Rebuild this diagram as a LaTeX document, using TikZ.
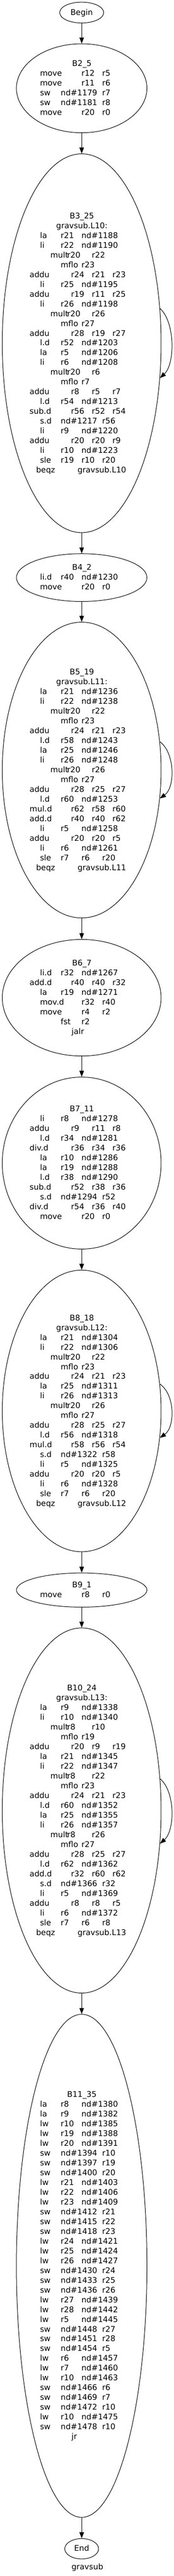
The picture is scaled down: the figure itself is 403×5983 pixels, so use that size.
\documentclass[tikz,border=0pt]{standalone}
\usepackage{fontspec}
\setmainfont{DejaVu Sans}
\usetikzlibrary{arrows.meta,shapes.geometric}
\newcommand\qtk[2]{\rlap{\hskip#1pt\relax#2}}
\newcommand\qttl[1]{\hbox{\qtk{189.3}{\makebox[0pt]{#1}}}}
\newcommand\qab[3]{\hbox{\qtk{92.3}{#1}\qtk{140.3}{#2}\qtk{188.3}{#3}}}
\newcommand\qmv[3]{\hbox{\qtk{92.3}{#1}\qtk{188.3}{#2}\qtk{236.3}{#3}}}
\newcommand\qsw[3]{\hbox{\qtk{92.3}{#1}\qtk{140.3}{#2}\qtk{236.3}{#3}}}
\newcommand\qar[4]{\hbox{\qtk{68.3}{#1}\qtk{164.3}{#2}\qtk{212.3}{#3}\qtk{260.3}{#4}}}
\newcommand\qmu[2]{\hbox{\qtk{116.3}{mult}\qtk{155.3}{#1}\qtk{212.3}{#2}}}
\newcommand\qmf[2]{\hbox{\qtk{140.3}{#1}\qtk{188.3}{#2}}}
\newcommand\qsl[3]{\hbox{\qtk{92.3}{sle}\qtk{140.3}{#1}\qtk{188.3}{#2}\qtk{236.3}{#3}}}
\newcommand\qbq[1]{\hbox{\qtk{83.3}{beqz}\qtk{179.3}{#1}}}
\newcommand\qon[1]{\hbox{\qtk{165.5}{#1}}}
\newcommand\qblk[1]{\vtop{\baselineskip=22.7pt\lineskiplimit=-1000pt\lineskip=0pt #1}}
\begin{document}
\begin{tikzpicture}[x=1pt,y=-1pt,
  font=\fontsize{18.2}{22.7}\selectfont,
  blk/.style={draw, ellipse, inner sep=0pt, line width=1.2pt},
  txt/.style={anchor=base west, inner sep=0pt, outer sep=0pt},
  edge/.style={line width=1.2pt, -{Triangle[length=14pt,width=10.5pt]}}]
\fill[white] (0,0) rectangle (403,5983);
\useasboundingbox (0,0) rectangle (403,5983);

\node[blk, minimum width=102pt, minimum height=48.4pt, text height=11.4pt, text depth=0pt] (Begin) at (189.3,29.2) {Begin};

\node[blk, minimum width=302.4pt, minimum height=206.6pt] (B2) at (189.3,205) {};
\node[txt] (B2t) at (0,153.95) {\qblk{\qttl{B2\_5}\qmv{move}{r12}{r5}\qmv{move}{r11}{r6}\qsw{sw}{nd\#1179}{r7}\qsw{sw}{nd\#1181}{r8}\qmv{move}{r20}{r0}}};

\node[blk, minimum width=368pt, minimum height=879.8pt] (B3) at (189.3,797.2) {};
\node[txt] (B3t) at (0,507.8) {\qblk{\qttl{B3\_25}\qttl{gravsub.L10:}
\qab{la}{r21}{nd\#1188}\qab{li}{r22}{nd\#1190}\qmu{r20}{r22}\qmf{mflo}{r23}
\qar{addu}{r24}{r21}{r23}\qab{li}{r25}{nd\#1195}\qar{addu}{r19}{r11}{r25}
\qab{li}{r26}{nd\#1198}\qmu{r20}{r26}\qmf{mflo}{r27}\qar{addu}{r28}{r19}{r27}
\qab{l.d}{r52}{nd\#1203}\qab{la}{r5}{nd\#1206}\qab{li}{r6}{nd\#1208}
\qmu{r20}{r6}\qmf{mflo}{r7}\qar{addu}{r8}{r5}{r7}\qab{l.d}{r54}{nd\#1213}
\qar{sub.d}{r56}{r52}{r54}\qsw{s.d}{nd\#1217}{r56}\qab{li}{r9}{nd\#1220}
\qar{addu}{r20}{r20}{r9}\qab{li}{r10}{nd\#1223}\qsl{r19}{r10}{r20}\qbq{gravsub.L10}}};

\node[blk, minimum width=302.4pt, minimum height=111pt] (B4) at (189.3,1341.5) {};
\node[txt] (B4t) at (0,1324.5) {\qblk{\qttl{B4\_2}\qab{li.d}{r40}{nd\#1230}\qmv{move}{r20}{r0}}};

\node[blk, minimum width=368pt, minimum height=687pt] (B5) at (189.3,1788.5) {};
\node[txt] (B5t) at (0,1567.2) {\qblk{\qttl{B5\_19}\qttl{gravsub.L11:}
\qab{la}{r21}{nd\#1236}\qab{li}{r22}{nd\#1238}\qmu{r20}{r22}\qmf{mflo}{r23}
\qar{addu}{r24}{r21}{r23}\qab{l.d}{r58}{nd\#1243}\qab{la}{r25}{nd\#1246}
\qab{li}{r26}{nd\#1248}\qmu{r20}{r26}\qmf{mflo}{r27}\qar{addu}{r28}{r25}{r27}
\qab{l.d}{r60}{nd\#1253}\qar{mul.d}{r62}{r58}{r60}\qar{add.d}{r40}{r40}{r62}
\qab{li}{r5}{nd\#1258}\qar{addu}{r20}{r20}{r5}\qab{li}{r6}{nd\#1261}
\qsl{r7}{r6}{r20}\qbq{gravsub.L11}}};

\node[blk, minimum width=368pt, minimum height=270.7pt] (B6) at (189.3,2317.3) {};
\node[txt] (B6t) at (0,2243.55) {\qblk{\qttl{B6\_7}\qab{li.d}{r32}{nd\#1267}
\qar{add.d}{r40}{r40}{r32}\qab{la}{r19}{nd\#1271}\qmv{mov.d}{r32}{r40}
\qmv{move}{r4}{r2}\qmf{fst}{r2}\qon{jalr}}};

\node[blk, minimum width=368pt, minimum height=399.4pt] (B7) at (189.3,2701.3) {};
\node[txt] (B7t) at (0,2582.15) {\qblk{\qttl{B7\_11}\qab{li}{r8}{nd\#1278}
\qar{addu}{r9}{r11}{r8}\qab{l.d}{r34}{nd\#1281}\qar{div.d}{r36}{r34}{r36}
\qab{la}{r10}{nd\#1286}\qab{la}{r19}{nd\#1288}\qab{l.d}{r38}{nd\#1290}
\qar{sub.d}{r52}{r38}{r36}\qsw{s.d}{nd\#1294}{r52}\qar{div.d}{r54}{r36}{r40}
\qmv{move}{r20}{r0}}};

\node[blk, minimum width=368pt, minimum height=654pt] (B8) at (189.3,3277) {};
\node[txt] (B8t) at (0,3067.05) {\qblk{\qttl{B8\_18}\qttl{gravsub.L12:}
\qab{la}{r21}{nd\#1304}\qab{li}{r22}{nd\#1306}\qmu{r20}{r22}\qmf{mflo}{r23}
\qar{addu}{r24}{r21}{r23}\qab{la}{r25}{nd\#1311}\qab{li}{r26}{nd\#1313}
\qmu{r20}{r26}\qmf{mflo}{r27}\qar{addu}{r28}{r25}{r27}\qab{l.d}{r56}{nd\#1318}
\qar{mul.d}{r58}{r56}{r54}\qsw{s.d}{nd\#1322}{r58}\qab{li}{r5}{nd\#1325}
\qar{addu}{r20}{r20}{r5}\qab{li}{r6}{nd\#1328}\qsl{r7}{r6}{r20}\qbq{gravsub.L12}}};

\node[blk, minimum width=302.4pt, minimum height=79.4pt] (B9) at (189.3,3693) {};
\node[txt] (B9t) at (0,3687.35) {\qblk{\qttl{B9\_1}\qmv{move}{r8}{r0}}};

\node[blk, minimum width=368pt, minimum height=848pt] (B10) at (189.3,4205) {};
\node[txt] (B10t) at (0,3926.95) {\qblk{\qttl{B10\_24}\qttl{gravsub.L13:}
\qab{la}{r9}{nd\#1338}\qab{li}{r10}{nd\#1340}\qmu{r8}{r10}\qmf{mflo}{r19}
\qar{addu}{r20}{r9}{r19}\qab{la}{r21}{nd\#1345}\qab{li}{r22}{nd\#1347}
\qmu{r8}{r22}\qmf{mflo}{r23}\qar{addu}{r24}{r21}{r23}\qab{l.d}{r60}{nd\#1352}
\qab{la}{r25}{nd\#1355}\qab{li}{r26}{nd\#1357}\qmu{r8}{r26}\qmf{mflo}{r27}
\qar{addu}{r28}{r25}{r27}\qab{l.d}{r62}{nd\#1362}\qar{add.d}{r32}{r60}{r62}
\qsw{s.d}{nd\#1366}{r32}\qab{li}{r5}{nd\#1369}\qar{addu}{r8}{r8}{r5}
\qab{li}{r6}{nd\#1372}\qsl{r7}{r6}{r8}\qbq{gravsub.L13}}};

\node[blk, minimum width=302.4pt, minimum height=1168.4pt] (B11) at (189.3,5262.5) {};
\node[txt] (B11t) at (0,4870.95) {\qblk{\qttl{B11\_35}
\qab{la}{r8}{nd\#1380}\qab{la}{r9}{nd\#1382}\qab{lw}{r10}{nd\#1385}
\qab{lw}{r19}{nd\#1388}\qab{lw}{r20}{nd\#1391}\qsw{sw}{nd\#1394}{r10}
\qsw{sw}{nd\#1397}{r19}\qsw{sw}{nd\#1400}{r20}\qab{lw}{r21}{nd\#1403}
\qab{lw}{r22}{nd\#1406}\qab{lw}{r23}{nd\#1409}\qsw{sw}{nd\#1412}{r21}
\qsw{sw}{nd\#1415}{r22}\qsw{sw}{nd\#1418}{r23}\qab{lw}{r24}{nd\#1421}
\qab{lw}{r25}{nd\#1424}\qab{lw}{r26}{nd\#1427}\qsw{sw}{nd\#1430}{r24}
\qsw{sw}{nd\#1433}{r25}\qsw{sw}{nd\#1436}{r26}\qab{lw}{r27}{nd\#1439}
\qab{lw}{r28}{nd\#1442}\qab{lw}{r5}{nd\#1445}\qsw{sw}{nd\#1448}{r27}
\qsw{sw}{nd\#1451}{r28}\qsw{sw}{nd\#1454}{r5}\qab{lw}{r6}{nd\#1457}
\qab{lw}{r7}{nd\#1460}\qab{lw}{r10}{nd\#1463}\qsw{sw}{nd\#1466}{r6}
\qsw{sw}{nd\#1469}{r7}\qsw{sw}{nd\#1472}{r10}\qab{lw}{r10}{nd\#1475}
\qsw{sw}{nd\#1478}{r10}\qon{jr}}};

\node[blk, minimum width=78.4pt, minimum height=47.3pt, text height=11.4pt, text depth=0pt] (End) at (189.3,5919.7) {End};
\node[anchor=base, inner sep=0pt] (glabel) at (202.5,5967.7) {gravsub};

\draw[edge] (Begin) -- (B2);
\draw[edge] (B2) -- (B3);
\draw[edge] (B3) -- (B4);
\draw[edge] (B4) -- (B5);
\draw[edge] (B5) -- (B6);
\draw[edge] (B6) -- (B7);
\draw[edge] (B7) -- (B8);
\draw[edge] (B8) -- (B9);
\draw[edge] (B9) -- (B10);
\draw[edge] (B10) -- (B11);
\draw[edge] (B11) -- (End);

\draw[edge] (B3.24.4) .. controls (406,747.6) and (406,845.4) .. (B3.-24.1);
\draw[edge] (B5.20.2) .. controls (406,1748.8) and (406,1829.2) .. (B5.-20.5);
\draw[edge] (B8.19.4) .. controls (406,3238.6) and (406,3314.7) .. (B8.-19.2);
\draw[edge] (B10.22.5) .. controls (406,4160.2) and (406,4250.8) .. (B10.-23.0);
\end{tikzpicture}
\end{document}
